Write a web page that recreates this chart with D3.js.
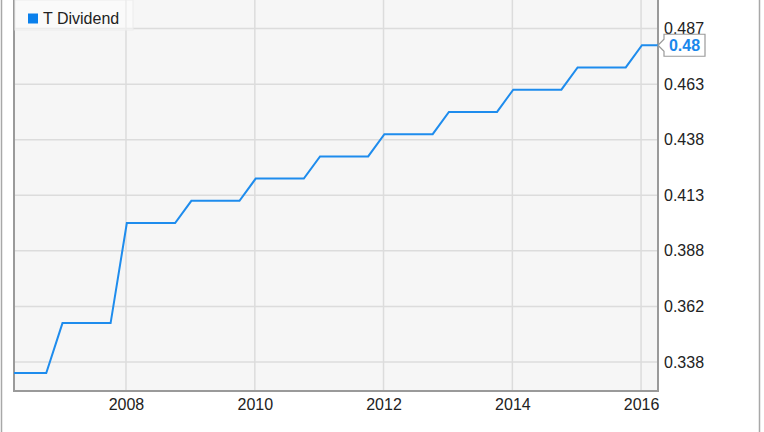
<!DOCTYPE html>
<html><head><meta charset="utf-8">
<script src="https://cdn.jsdelivr.net/npm/d3@7"></script>
<style>
html,body{margin:0;padding:0;background:#fff;}
svg{display:block;font-family:"Liberation Sans",Arial,sans-serif;}
</style></head>
<body><svg id="chart" width="764" height="432"></svg>
<script>
const seriesName = "T Dividend";
const dates = [
 "2006-04-06","2006-07-06","2006-10-06",
 "2007-01-06","2007-04-06","2007-07-06","2007-10-06",
 "2008-01-06","2008-04-06","2008-07-06","2008-10-06",
 "2009-01-06","2009-04-06","2009-07-06","2009-10-06",
 "2010-01-06","2010-04-06","2010-07-06","2010-10-06",
 "2011-01-06","2011-04-06","2011-07-06","2011-10-06",
 "2012-01-06","2012-04-06","2012-07-06","2012-10-06",
 "2013-01-06","2013-04-06","2013-07-06","2013-10-06",
 "2014-01-06","2014-04-06","2014-07-06","2014-10-06",
 "2015-01-06","2015-04-06","2015-07-06","2015-10-06",
 "2016-01-06","2016-04-06"
];
const dividends = [
 0.3325,0.3325,0.3325,
 0.355,0.355,0.355,0.355,
 0.40,0.40,0.40,0.40,
 0.41,0.41,0.41,0.41,
 0.42,0.42,0.42,0.42,
 0.43,0.43,0.43,0.43,
 0.44,0.44,0.44,0.44,
 0.45,0.45,0.45,0.45,
 0.46,0.46,0.46,0.46,
 0.47,0.47,0.47,0.47,
 0.48,0.48
];
const yTickValues = [0.3375,0.3625,0.3875,0.4125,0.4375,0.4625,0.4875];
const yTickLabels = ["0.338","0.362","0.388","0.413","0.438","0.463","0.487"];
const xTickYears = [2008,2010,2012,2014,2016];

const parse = d3.timeParse("%Y-%m-%d");
const data = dates.map((d,i)=>({date:parse(d), value:dividends[i]}));

const svg = d3.select("#chart");
const L=14, R=658, T=0, B=391;
const x = d3.scaleTime().domain(d3.extent(data,d=>d.date)).range([L,R]);
const y = d3.scaleLinear().domain([0.32445,0.50035]).range([B,T]);

// outer frame lines
svg.append("line").attr("x1",1.5).attr("x2",1.5).attr("y1",0).attr("y2",432).attr("stroke","#a8a8a8").attr("stroke-width",1.5);
svg.append("line").attr("x1",759.5).attr("x2",759.5).attr("y1",0).attr("y2",432).attr("stroke","#a8a8a8").attr("stroke-width",1.5);

// plot background
svg.append("rect").attr("x",L).attr("y",T).attr("width",R-L).attr("height",B-T).attr("fill","#f6f6f6");

// gridlines
const xTicks = xTickYears.map(yr=>new Date(yr,0,1));
svg.append("g").selectAll("line").data(yTickValues).join("line")
  .attr("x1",L).attr("x2",R).attr("y1",d=>y(d)).attr("y2",d=>y(d))
  .attr("stroke","#dcdcdc").attr("stroke-width",1.5);
svg.append("g").selectAll("line").data(xTicks).join("line")
  .attr("x1",d=>x(d)).attr("x2",d=>x(d)).attr("y1",T).attr("y2",B)
  .attr("stroke","#dcdcdc").attr("stroke-width",1.5);

// plot border (left, bottom, right)
svg.append("path").attr("d",`M${L},${T}V${B}H${R}V${T}`).attr("fill","none").attr("stroke","#9a9a9a").attr("stroke-width",2);

// y axis labels
const yAxis = d3.axisRight(y).tickValues(yTickValues).tickSize(0).tickPadding(0)
  .tickFormat((d,i)=>yTickLabels[i]);
const gy = svg.append("g").attr("transform",`translate(${R+6},0)`).call(yAxis);
gy.select(".domain").remove();
gy.selectAll("text").attr("font-size",16).attr("fill","#222").attr("font-family","Liberation Sans, Arial, sans-serif");

// x axis labels
const xAxis = d3.axisBottom(x).tickValues(xTicks).tickSize(0).tickPadding(8).tickFormat(d3.timeFormat("%Y"));
const gx = svg.append("g").attr("transform",`translate(0,${B})`).call(xAxis);
gx.select(".domain").remove();
gx.selectAll("text").attr("font-size",16).attr("fill","#222").attr("font-family","Liberation Sans, Arial, sans-serif");

// legend box
svg.append("rect").attr("x",L+1).attr("y",0).attr("width",118).attr("height",30)
  .attr("fill","#ffffff").attr("fill-opacity",0.45).attr("stroke","#ececec").attr("stroke-width",1);
svg.append("rect").attr("x",28).attr("y",13.5).attr("width",10).attr("height",10).attr("fill","#0a80ec");
svg.append("text").attr("x",43).attr("y",24).attr("font-size",16).attr("fill","#222").text(seriesName);

// line
const line = d3.line().x(d=>x(d.date)).y(d=>y(d.value));
svg.append("path").datum(data).attr("d",line).attr("fill","none")
  .attr("stroke","#1e8ced").attr("stroke-width",2).attr("stroke-linejoin","miter");

// end value label
const last = data[data.length-1];
const lx = x(last.date), ly = y(last.value);
const bx = lx+6, bw = 41, bh = 22;
svg.append("path")
  .attr("d",`M${lx},${ly} L${bx},${ly-6} V${ly-bh/2} H${bx+bw} V${ly+bh/2} H${bx} V${ly+6} Z`)
  .attr("fill","#fff").attr("stroke","#9a9a9a").attr("stroke-width",1.2);
svg.append("text").attr("x",bx+bw/2).attr("y",ly+6).attr("text-anchor","middle")
  .attr("font-size",16).attr("font-weight","bold").attr("fill","#1a88ec")
  .text(d3.format(".2f")(last.value));
</script>
</body></html>
